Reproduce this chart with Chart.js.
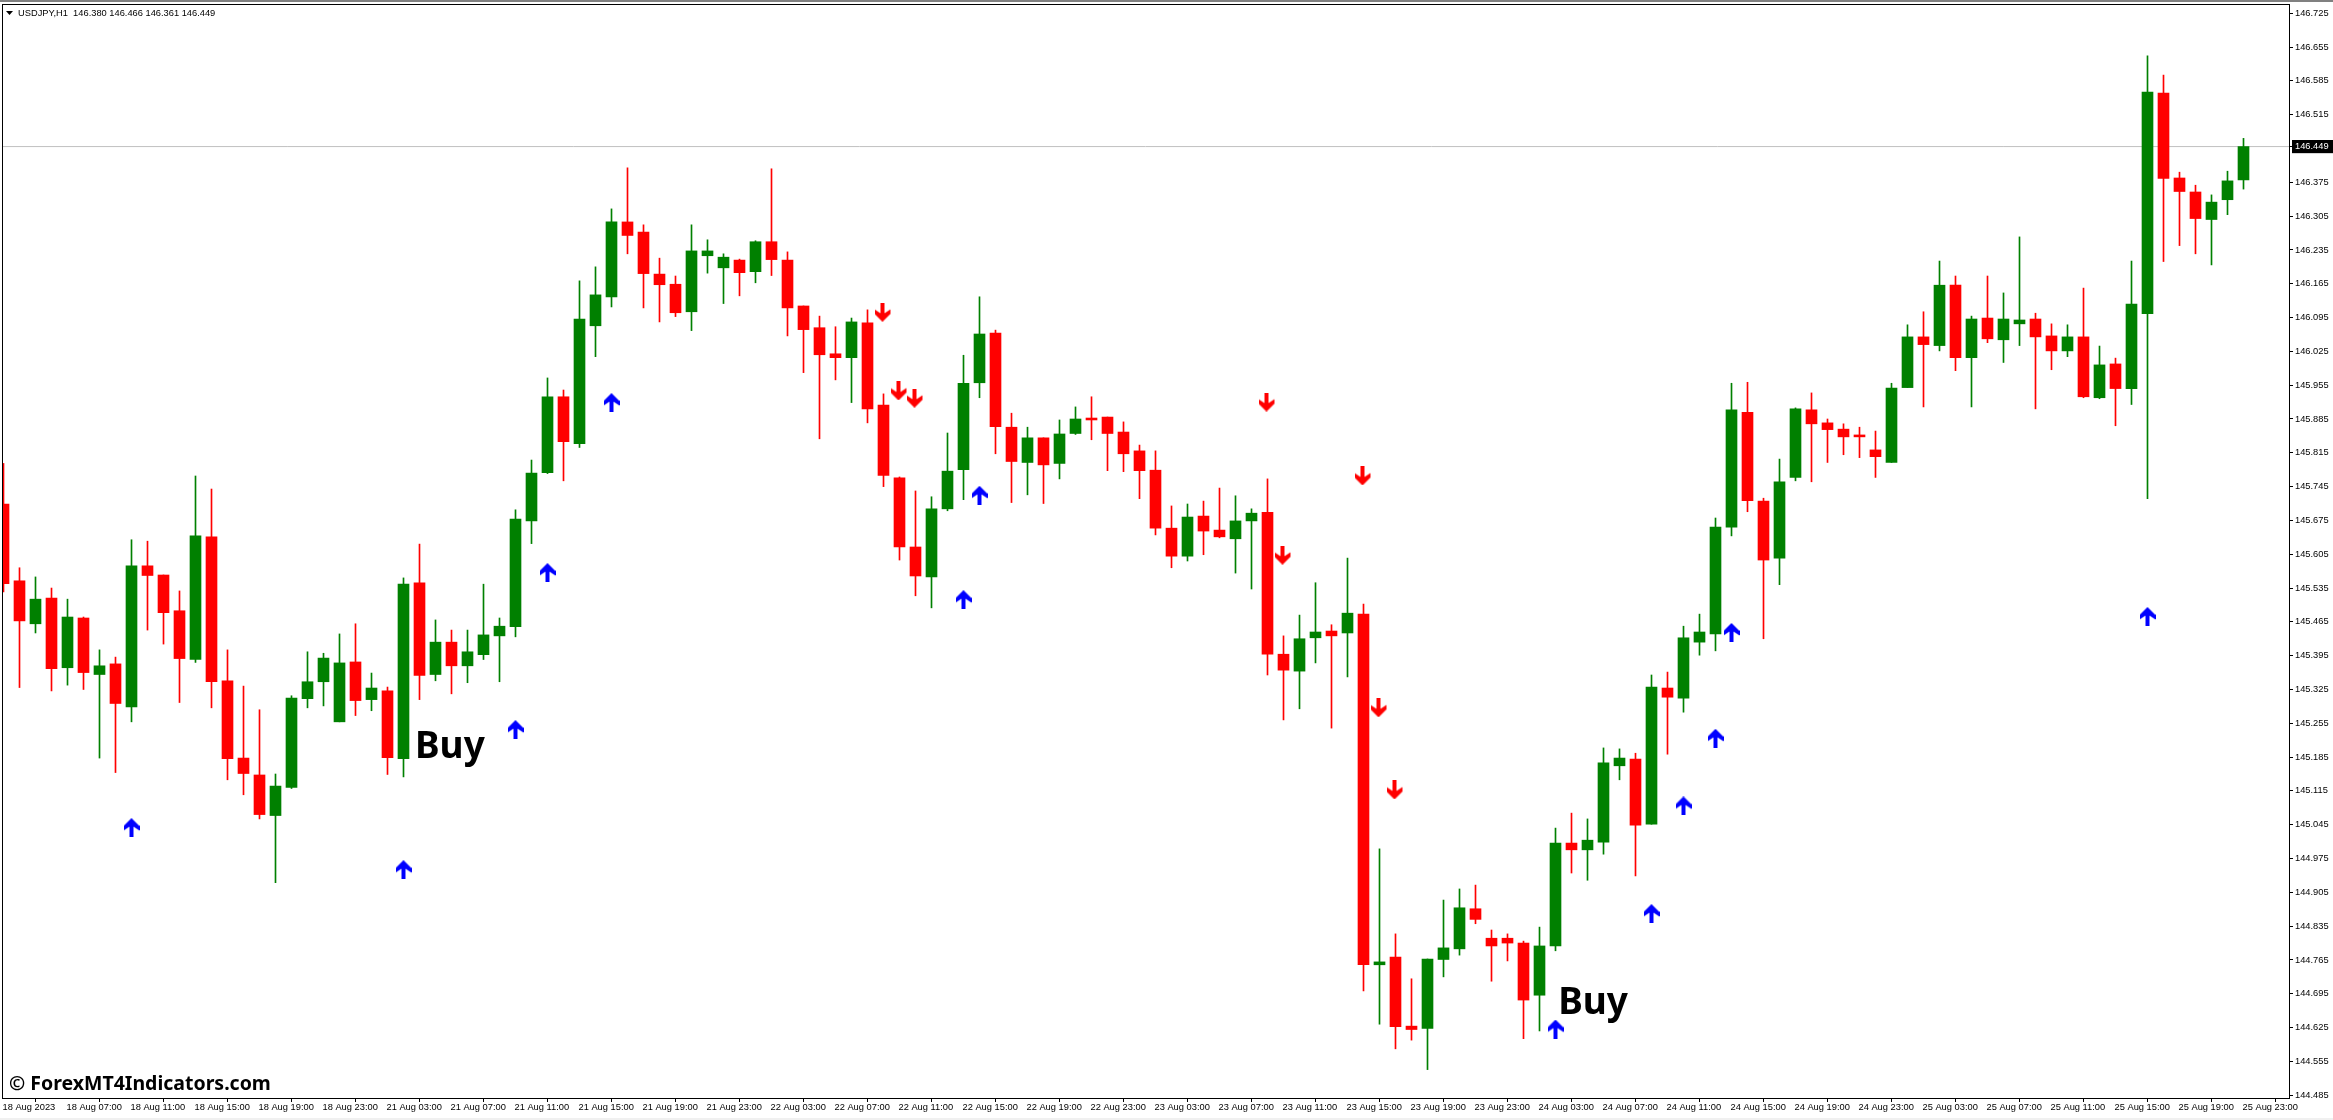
<!DOCTYPE html>
<html>
<head>
<meta charset="utf-8">
<title>USDJPY,H1</title>
<script src="https://cdn.jsdelivr.net/npm/chart.js@4/dist/chart.umd.js"></script>
<style>
    html, body { margin: 0; padding: 0; background: #fff; }
    #wrap { position: relative; width: 2333px; height: 1120px; overflow: hidden; }
    #topBand { position: absolute; left: 0; top: 0; width: 100%; height: 2px; background: #808080; }
    #bottomBand { position: absolute; left: 0; top: 1118px; width: 100%; height: 2px; background: #f0f0f0; }
    canvas { position: absolute; left: 0; top: 0; }
</style>
</head>
<body>
<div id="wrap">
    <div id="topBand"></div>
    <div id="bottomBand"></div>
    <canvas id="chart" width="2333" height="1120"></canvas>
</div>
<script>
const opens = [
    145.709,145.550,145.461,145.514,145.370,145.473,145.356,145.378,145.289,145.581,
    145.562,145.488,145.387,145.641,145.343,145.183,145.148,145.064,145.122,145.306,
    145.341,145.258,145.382,145.304,145.322,145.182,145.546,145.356,145.423,145.374,
    145.397,145.436,145.455,145.674,145.774,145.931,145.834,146.078,146.138,146.293,
    146.272,146.185,146.164,146.107,146.223,146.198,146.214,146.190,146.252,146.214,
    146.119,146.074,146.020,146.012,146.084,145.914,145.763,145.620,145.558,145.699,
    145.780,145.960,146.063,145.868,145.795,145.846,145.793,145.855,145.887,145.889,
    145.858,145.819,145.779,145.659,145.601,145.684,145.655,145.637,145.674,145.692,
    145.398,145.363,145.432,145.446,145.442,145.481,144.755,144.771,144.628,144.623,
    144.766,144.788,144.871,144.810,144.810,144.800,144.692,144.794,145.007,144.993,
    145.009,145.167,145.181,145.046,145.328,145.307,145.423,145.440,145.661,145.899,
    145.715,145.597,145.764,145.904,145.877,145.864,145.852,145.821,145.795,145.950,
    146.055,146.037,146.162,146.012,146.094,146.049,146.082,146.092,146.057,146.026,
    146.055,145.929,145.999,145.948,146.103,146.560,146.384,146.355,146.298,146.339,
    146.380
];
const highs = [
    145.793,145.577,145.558,145.535,145.512,145.475,145.407,145.392,145.635,145.632,
    145.562,145.529,145.767,145.740,145.407,145.332,145.283,145.150,145.312,145.403,
    145.400,145.440,145.461,145.359,145.330,145.556,145.626,145.469,145.448,145.448,
    145.543,145.473,145.697,145.800,145.970,145.945,146.171,146.200,146.320,146.405,
    146.287,146.218,146.181,146.287,146.256,146.227,146.216,146.254,146.403,146.231,
    146.119,146.098,146.076,146.094,146.111,145.937,145.765,145.736,145.724,145.856,
    146.017,146.138,146.069,145.897,145.868,145.846,145.883,145.910,145.931,145.889,
    145.879,145.831,145.819,145.705,145.709,145.715,145.742,145.726,145.699,145.761,
    145.436,145.479,145.546,145.459,145.597,145.502,144.995,144.819,144.726,144.767,
    144.889,144.912,144.920,144.827,144.819,144.804,144.833,145.038,145.069,145.057,
    145.204,145.202,145.193,145.355,145.361,145.456,145.481,145.680,145.959,145.961,
    145.721,145.802,145.908,145.939,145.885,145.875,145.868,145.860,145.959,146.080,
    146.107,146.212,146.181,146.098,146.181,146.146,146.262,146.104,146.082,146.080,
    146.156,146.036,146.011,146.212,146.637,146.597,146.396,146.369,146.349,146.398,
    146.466
];
const lows = [
    145.527,145.329,145.442,145.322,145.334,145.325,145.183,145.153,145.258,145.448,
    145.419,145.298,145.381,145.287,145.138,145.107,145.057,144.925,145.120,145.287,
    145.291,145.258,145.271,145.281,145.149,145.144,145.304,145.343,145.316,145.339,
    145.387,145.341,145.434,145.627,145.772,145.757,145.826,146.014,146.117,146.227,
    146.115,146.086,146.097,146.068,146.187,146.124,146.140,146.167,146.182,146.057,
    145.981,145.844,145.966,145.919,145.877,145.745,145.593,145.519,145.494,145.695,
    145.718,145.929,145.813,145.712,145.728,145.710,145.761,145.853,145.842,145.778,
    145.776,145.720,145.645,145.577,145.591,145.604,145.639,145.566,145.533,145.355,
    145.262,145.285,145.380,145.245,145.351,144.701,144.632,144.581,144.599,144.538,
    144.730,144.775,144.840,144.721,144.763,144.602,144.618,144.784,144.945,144.930,
    144.984,145.138,144.939,145.046,145.191,145.278,145.396,145.405,145.643,145.693,
    145.430,145.542,145.757,145.755,145.795,145.811,145.805,145.764,145.795,145.950,
    145.910,146.026,145.985,145.910,146.043,146.002,146.037,145.906,145.987,146.014,
    145.929,145.927,145.871,145.915,145.720,146.211,146.244,146.227,146.204,146.308,
    146.361
];
const closes = [
    145.544,145.467,145.512,145.368,145.475,145.360,145.374,145.296,145.581,145.561,
    145.484,145.389,145.643,145.341,145.182,145.151,145.066,145.125,145.307,145.341,
    145.390,145.380,145.302,145.328,145.184,145.543,145.354,145.423,145.374,145.403,
    145.438,145.456,145.678,145.773,145.931,145.838,146.092,146.142,146.293,146.265,
    146.186,146.163,146.105,146.233,146.233,146.220,146.188,146.252,146.215,146.115,
    146.070,146.018,146.012,146.086,145.906,145.768,145.620,145.560,145.699,145.777,
    145.959,146.061,145.869,145.797,145.846,145.790,145.854,145.885,145.883,145.855,
    145.813,145.778,145.659,145.601,145.682,145.653,145.641,145.674,145.690,145.398,
    145.365,145.430,145.444,145.436,145.483,144.755,144.761,144.627,144.621,144.767,
    144.790,144.873,144.849,144.794,144.800,144.682,144.794,145.007,144.993,145.013,
    145.173,145.183,145.044,145.330,145.309,145.432,145.444,145.661,145.904,145.716,
    145.593,145.755,145.906,145.875,145.863,145.848,145.848,145.807,145.949,146.055,
    146.039,146.162,146.012,146.092,146.051,146.092,146.090,146.055,146.026,146.055,
    145.931,145.997,145.948,146.123,146.562,146.383,146.356,146.300,146.334,146.378,
    146.449
];

// arrows: bar index and price
const buyArrowBars = [8, 25, 32, 34, 38, 60, 61, 97, 103, 105, 107, 108, 134];
const buyArrowPrices = [145.039, 144.952, 145.242, 145.567, 145.919, 145.511, 145.727, 144.622, 144.861, 145.084, 145.224, 145.443, 145.476];
const sellArrowBars = [55, 56, 57, 79, 80, 85, 86, 87];
const sellArrowPrices = [146.106, 145.943, 145.928, 145.920, 145.603, 145.767, 145.287, 145.117];

const buyLabelBars = [25.72, 97.17];
const buyLabelPrices = [145.183, 144.653];

const lastPrice = 146.449;

// every 4th bar has a time label
const timeTickBars = [
    0, 4, 8, 12, 16, 20, 24, 28, 32, 36, 40, 44, 48, 52, 56, 60, 64, 68,
    72, 76, 80, 84, 88, 92, 96, 100, 104, 108, 112, 116, 120, 124, 128, 132, 136, 140
];
const timeLabels = [
    "18 Aug 2023", "18 Aug 07:00", "18 Aug 11:00", "18 Aug 15:00", "18 Aug 19:00", "18 Aug 23:00",
    "21 Aug 03:00", "21 Aug 07:00", "21 Aug 11:00", "21 Aug 15:00", "21 Aug 19:00", "21 Aug 23:00",
    "22 Aug 03:00", "22 Aug 07:00", "22 Aug 11:00", "22 Aug 15:00", "22 Aug 19:00", "22 Aug 23:00",
    "23 Aug 03:00", "23 Aug 07:00", "23 Aug 11:00", "23 Aug 15:00", "23 Aug 19:00", "23 Aug 23:00",
    "24 Aug 03:00", "24 Aug 07:00", "24 Aug 11:00", "24 Aug 15:00", "24 Aug 19:00", "24 Aug 23:00",
    "25 Aug 03:00", "25 Aug 07:00", "25 Aug 11:00", "25 Aug 15:00", "25 Aug 19:00", "25 Aug 23:00"
];
const priceTicks = [
    144.485, 144.555, 144.625, 144.695, 144.765, 144.835, 144.905, 144.975, 145.045, 145.115, 145.185,
    145.255, 145.325, 145.395, 145.465, 145.535, 145.605, 145.675, 145.745, 145.815, 145.885, 145.955,
    146.025, 146.095, 146.165, 146.235, 146.305, 146.375, 146.449, 146.515, 146.585, 146.655, 146.725
];

const GREEN = "#008000";
const RED = "#ff0000";
const BLUE = "#0000ff";
const TICK_FONT = {family: "Liberation Sans", size: 9.3};

// the sell arrow sits 1px left of its bar, hence the wider canvas
function arrowImage(color, up) {
    const c = document.createElement("canvas");
    c.width = up ? 16 : 18;
    c.height = 19;
    const g = c.getContext("2d");
    if (!up) {
        g.translate(0, 19);
        g.scale(1, -1);
    }
    g.fillStyle = color;
    g.beginPath();
    const pts = [[8, 0], [16, 8], [16, 12.5], [10, 8.5], [10, 19], [6, 19], [6, 8.5], [0, 12.5], [0, 8]];
    pts.forEach((p, i) => i ? g.lineTo(p[0], p[1]) : g.moveTo(p[0], p[1]));
    g.closePath();
    g.fill();
    return c;
}

const candleColors = closes.map((c, i) => (c >= opens[i] ? GREEN : RED));

// frame, header, Buy labels and watermark
const overlay = {
    id: "overlay",
    afterDraw(chart) {
        const {ctx, chartArea: a, scales} = chart;
        ctx.save();
        ctx.strokeStyle = "#000";
        ctx.lineWidth = 1;
        ctx.strokeRect(a.left + 0.5, a.top + 0.5, a.right - a.left, a.bottom - a.top);

        ctx.fillStyle = "#000";
        ctx.beginPath();
        ctx.moveTo(6, 11);
        ctx.lineTo(13, 11);
        ctx.lineTo(9.5, 15);
        ctx.closePath();
        ctx.fill();

        ctx.textAlign = "left";
        ctx.textBaseline = "alphabetic";
        ctx.font = "9.3px 'Liberation Sans'";
        ctx.fillText("USDJPY,H1  146.380 146.466 146.361 146.449", 18, 16);

        ctx.font = "bold 37px 'Noto Sans'";
        buyLabelBars.forEach((b, i) => {
            ctx.fillText("Buy", scales.x.getPixelForValue(b), scales.y.getPixelForValue(buyLabelPrices[i]));
        });

        ctx.font = "bold 19.5px 'Noto Sans'";
        ctx.fillText("© ForexMT4Indicators.com", 9, 1090);
        ctx.restore();
    }
};

new Chart(document.getElementById("chart").getContext("2d"), {
    type: "bar",
    data: {
        datasets: [
            {
                type: "line",
                data: [{x: -0.09375, y: lastPrice}, {x: 142.84375, y: lastPrice}],
                borderColor: "#c0c0c0",
                borderWidth: 1,
                pointRadius: 0,
                order: 4
            },
            {
                data: lows.map((l, i) => ({x: i, y: [l, highs[i]]})),
                backgroundColor: candleColors,
                barThickness: 1,
                grouped: false,
                order: 3
            },
            {
                data: opens.map((o, i) => ({x: i, y: [o, closes[i]]})),
                backgroundColor: candleColors,
                barThickness: 11,
                grouped: false,
                order: 2
            },
            {
                type: "scatter",
                data: buyArrowBars.map((b, i) => ({x: b, y: buyArrowPrices[i]})),
                pointStyle: arrowImage(BLUE, true),
                order: 1
            },
            {
                type: "scatter",
                data: sellArrowBars.map((b, i) => ({x: b, y: sellArrowPrices[i]})),
                pointStyle: arrowImage(RED, false),
                order: 1
            }
        ]
    },
    options: {
        responsive: false,
        animation: false,
        devicePixelRatio: 1,
        layout: {autoPadding: false, padding: {left: 2, top: 4, right: 0, bottom: 0}},
        plugins: {legend: {display: false}, tooltip: {enabled: false}},
        scales: {
            x: {
                type: "linear",
                min: -0.09375,
                max: 142.84375,
                offset: false,
                grid: {drawOnChartArea: false, tickLength: 4, tickColor: "#000"},
                border: {color: "#000"},
                ticks: {
                    autoSkip: false,
                    maxRotation: 0,
                    align: "start",
                    labelOffset: -1,
                    padding: 0,
                    color: "#000",
                    font: TICK_FONT,
                    callback: (v, i) => timeLabels[i]
                },
                afterBuildTicks(scale) {
                    scale.ticks = timeTickBars.map(v => ({value: v}));
                },
                afterFit(scale) {
                    scale.height = 22;
                    scale.paddingLeft = scale.paddingRight = 0;
                }
            },
            y: {
                position: "right",
                min: 144.4792,
                max: 146.7442,
                grid: {drawOnChartArea: false, tickLength: 4, tickColor: "#000"},
                border: {color: "#000"},
                ticks: {
                    autoSkip: false,
                    padding: 2,
                    font: TICK_FONT,
                    color: ctx => (ctx.tick.value === lastPrice ? "#fff" : "#000"),
                    showLabelBackdrop: ctx => ctx.tick.value === lastPrice,
                    backdropColor: "#000",
                    backdropPadding: {left: 3, right: 5, top: 1, bottom: 1},
                    callback: v => v.toFixed(3)
                },
                afterBuildTicks(scale) {
                    scale.ticks = priceTicks.map(v => ({value: v}));
                },
                afterFit(scale) {
                    scale.width = 44;
                    scale.paddingTop = scale.paddingBottom = 0;
                }
            }
        }
    },
    plugins: [overlay]
});
</script>
</body>
</html>
